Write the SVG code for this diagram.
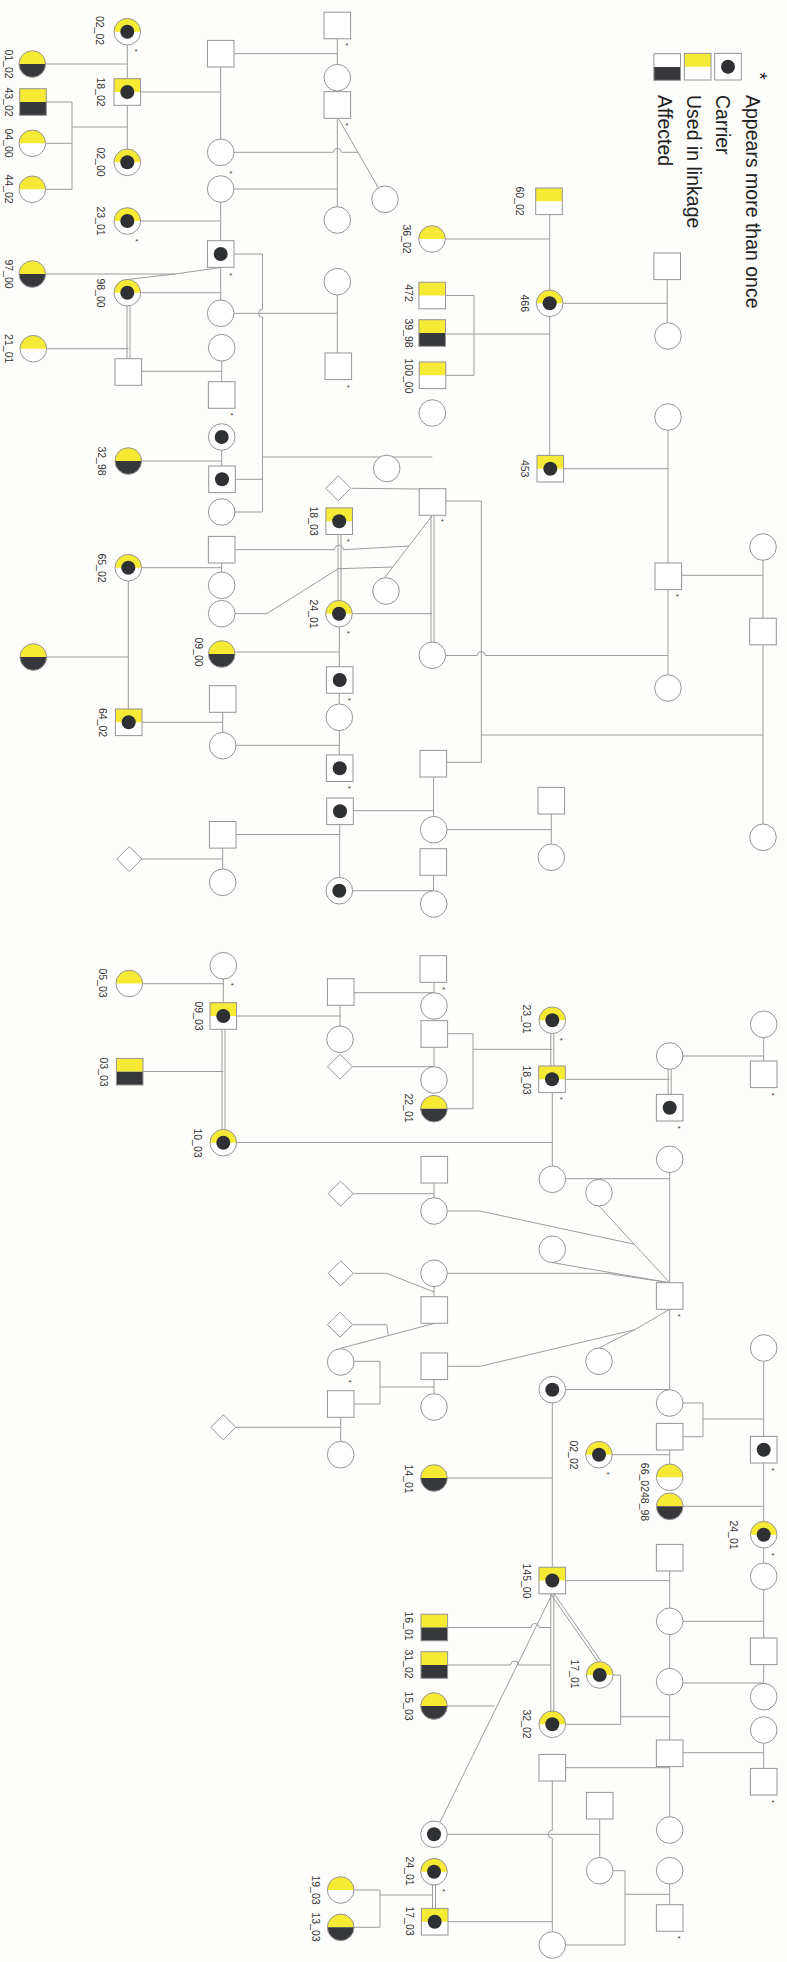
<svg xmlns="http://www.w3.org/2000/svg" width="787" height="1962" viewBox="0 0 787 1962">
<style>
.o{fill:#fff;stroke:#959595;stroke-width:1}
.ol{fill:none;stroke:#959595;stroke-width:1}
.y{fill:#f7ea35}
.k{fill:#37383b}
.d{fill:#2f3033}
.ln{fill:none;stroke:#9c9c9c;stroke-width:1}
.lb{font-family:"Liberation Sans",Arial,sans-serif;font-size:10.5px;fill:#333;text-anchor:middle}
.as{font-family:"Liberation Sans",Arial,sans-serif;font-size:8px;fill:#444;text-anchor:middle}
.lg{font-family:"Liberation Sans",Arial,sans-serif;font-size:19.5px;fill:#222}
</style>
<defs>
<g id="C"><circle r="13.3" class="o"/></g>
<g id="CY"><circle r="13.3" fill="#fff"/><path d="M-13.3,0A13.3,13.3 0 0 1 13.3,0Z" class="y"/><circle r="13.3" class="ol"/></g>
<g id="CYK"><path d="M-13.3,0A13.3,13.3 0 0 1 13.3,0Z" class="y"/><path d="M-13.3,0A13.3,13.3 0 0 0 13.3,0Z" class="k"/><circle r="13.3" class="ol"/></g>
<g id="S"><rect x="-13.3" y="-13.3" width="26.6" height="26.6" class="o"/></g>
<g id="SY"><rect x="-13.3" y="-13.3" width="26.6" height="26.6" fill="#fff"/><rect x="-13.3" y="-13.3" width="26.6" height="13.3" class="y"/><rect x="-13.3" y="-13.3" width="26.6" height="26.6" class="ol"/></g>
<g id="SYK"><rect x="-13.3" y="-13.3" width="26.6" height="13.3" class="y"/><rect x="-13.3" y="0" width="26.6" height="13.3" class="k"/><rect x="-13.3" y="-13.3" width="26.6" height="26.6" class="ol"/></g>
<g id="SK"><rect x="-13.3" y="-13.3" width="26.6" height="26.6" fill="#fff"/><rect x="-13.3" y="0" width="26.6" height="13.3" class="k"/><rect x="-13.3" y="-13.3" width="26.6" height="26.6" class="ol"/></g>
<g id="D"><path d="M0,-12.5L12.5,0L0,12.5L-12.5,0Z" class="o"/></g>
<circle id="dot" r="7" class="d"/>
</defs>
<rect width="787" height="1962" fill="#fdfdfb"/>

<g id="connectors">
<path class="ln" d="M127.3,45V78.7M45.6,64H127.3M127.3,105.3V149M72,127H127.3M72,102V189.3M46.3,102H72M45.6,143.3H72M45.6,189.3H72M140.6,92H220.7M234,53.7H337.3M220.7,67V139M337.3,38.8V64.4M337.3,91V91.7M337.3,118.3V206.7"/>
<path class="ln" d="M234,152.3H333.3A4,4 0 0 1 341.3,152.3H358.3M338.3,118.3L378.4,187.8M234,189H337.3M220.7,202.3V240.7M140.6,221H220.7"/>
<path class="ln" d="M45.6,274H175L220.7,267.5M128.3,279.4L175,274M140.6,292.7H220.7M220.7,267.3V300M234,254H262.5V309.3A4,4 0 0 0 262.5,317.3V512M234,313.3H337.3M337.3,295V353"/>
<path class="ln" d="M127,306V358.7M130,306V358.7"/>
<path class="ln" d="M46.6,348.7H128.5M141.6,371.3H221.7M221.7,361V381.7M221.7,450.3V466M141.6,461H221.7M235.3,479.3H262.5M235,512H262.5M262.5,457H432.3"/>
<path class="ln" d="M235,549.7H334.5A4.5,4.5 0 0 1 343.5,549.7L409,546M221.7,563V572M141.6,567.7H221.7M235,613.7H266.7L338.3,568.7L393,567M432.5,515.3L383.5,579M352.3,613.7H432.3M351.6,488.3L419.7,489"/>
<path class="ln" d="M338,534.5V600.4M341,534.5V600.4"/>
<path class="ln" d="M235,652H339.3M339.3,627V666.7M339.3,693.3V704M339.3,730.6V755M236,745.3H339.3M222.7,712.3V732.4M142,722.3H222.7M128.3,581V709M46.6,657H128.3M339.7,824.6V877.4M236,834.5H339.7M222.7,848V869M141.8,859H222.7"/>
<path class="ln" d="M549.7,214.6V290M445.3,239H549.7M549.7,316.6V455.3M563,303.3H667.2M667.2,279.6V322.7M445.5,295.5H474V375.3H445.8M445.5,334H549.7M563.6,468.7H668M668,430.3V563M681.6,575.3H763M763,560.3V618.2M763,644.8V824M668,589.6V674.7"/>
<path class="ln" d="M445.6,655.5H477.3A4,4 0 0 1 485.3,655.5H668M481.3,735H763M445.8,501H481.3V762.3H446.6M433.5,777V816.4M353.3,810.7H433.5M447,829.7H551.3M551.3,814V844M433.5,875.3V890.7M352.6,890.7H433.5"/>
<path class="ln" d="M431,515.3V642M434,515.3V642"/>
<path class="ln" d="M223.3,979V1002.7M142.6,983.7H223.3M236.6,1016H340M340,1005.3V1026M354,992.7H434M434,982.3V992.7M434,1019.3V1020.7M434,1047.3V1066.7M352.5,1066.7H434M447.6,1033.7H473V1108.7H447.3M473,1049.3H552.3"/>
<path class="ln" d="M222,1029.3V1129.4M225,1029.3V1129.4M550.8,1033.6V1066M553.8,1033.6V1066M668.2,1069.3V1094.4M671.2,1069.3V1094.4"/>
<path class="ln" d="M143,1071.5H223.5M236.6,1142.5H552.3M565.3,1079.3H669.7M683,1056H763.7M763.7,1037.6V1061M552.3,1092.6V1166M565.6,1178.7H669.7M669.7,1172.6V1282.7M599,1206L669.7,1282.7M447.3,1211H479.7L634.7,1244.3M434,1183V1197.7M353.2,1193.7H434M552.3,1262.6L669.7,1282.7M447.3,1273.3H606L669.7,1282.7M434,1286.6V1296.7M354,1273.3H386.7L434,1292"/>
<path class="ln" d="M353,1324.7H386.7L388.3,1335.2M340,1348.5L434.5,1323.3M354,1361.3H380V1404H354M380,1387H434M340.7,1417.3V1441.4M236,1427.3H340.7M447.6,1366.3H480.3L634.7,1329.7L669.7,1309.3M599,1348L634.7,1329.7M434,1379.6V1393.7M669.7,1309.3V1389.7M565.6,1389.5H669.7M683,1403H703V1436.7H683M703,1419H763.7M763.7,1361.3V1436.4"/>
<path class="ln" d="M669.7,1450V1464M612.3,1454.7H669.7M683,1506.3H763.7M763.7,1463V1521.4M763.7,1548V1563M763.7,1589.6V1638M552.3,1403V1567.2M447.3,1478H552.3M565.6,1580.6H669.7M669.7,1571V1608M669.7,1634.6V1668.4M683,1621.3H763.7M763.7,1664.6V1683.4M683,1683H763.7M763.7,1743.3V1768.4M683,1752.7H763.7"/>
<path class="ln" d="M447.6,1627.5H531A4,4 0 0 1 539,1627.5H551M447.6,1665H510.5A4,4 0 0 1 518.5,1665H551M447.3,1706H494.4M552.3,1593.7L439.9,1822.4"/>
<path class="ln" d="M553.5,1592.9L600.9,1660.9M551.1,1594.5L598.5,1662.5M550.8,1593.7V1711M553.8,1593.7V1711"/>
<path class="ln" d="M613,1675H620.7V1724.3H565.6M620.7,1716.7H669.7M669.7,1695V1740M669.7,1766.6V1816.7M565.6,1767.7H669.7M552.3,1781V1830.3A4,4 0 0 0 552.3,1838.3V1931.7M447.3,1834.3H599.7M599.7,1819V1857.4M613,1870.7H625V1945H565.6M625,1894.3H669.7M669.7,1884V1904.7"/>
<path class="ln" d="M432.5,1885V1908.4M435.5,1885V1908.4M448,1921.7H552.3M354,1890H380V1927.3H354M380,1895H432.5"/>
</g>

<g id="legend">
<text class="lg" transform="translate(753,76) rotate(90)" text-anchor="middle" font-size="14">*</text>
<use href="#S" x="728" y="66.7"/><use href="#dot" x="728" y="66.7"/>
<use href="#SY" x="697.7" y="66.7"/>
<use href="#SK" x="667.2" y="67"/>
<text class="lg" transform="translate(746,95) rotate(90)">Appears more than once</text>
<text class="lg" transform="translate(716,95) rotate(90)">Carrier</text>
<text class="lg" transform="translate(687,95) rotate(90)">Used in linkage</text>
<text class="lg" transform="translate(658,95) rotate(90)">Affected</text>
</g>

<g id="n1"><use href="#CY" x="127.3" y="31.7"/><use href="#dot" x="127.3" y="31.7"/><text class="lb" transform="translate(96,30.5) rotate(90)">02_02</text><text class="as" x="136" y="54">*</text></g>
<g id="n2"><use href="#CYK" x="32.3" y="64"/><text class="lb" transform="translate(5,64) rotate(90)">01_02</text></g>
<g id="n3"><use href="#SY" x="127.3" y="92"/><use href="#dot" x="127.3" y="92"/><text class="lb" transform="translate(97,92) rotate(90)">18_02</text></g>
<g id="n4"><use href="#SYK" x="33" y="102"/><text class="lb" transform="translate(5,102) rotate(90)">43_02</text></g>
<g id="n5"><use href="#CY" x="32.3" y="143.3"/><text class="lb" transform="translate(5,143) rotate(90)">04_00</text></g>
<g id="n6"><use href="#CY" x="32.3" y="189.3"/><text class="lb" transform="translate(5,189) rotate(90)">44_02</text></g>
<g id="n7"><use href="#CY" x="127.3" y="162.3"/><use href="#dot" x="127.3" y="162.3"/><text class="lb" transform="translate(97,162) rotate(90)">02_00</text></g>
<g id="n8"><use href="#S" x="220.7" y="53.7"/></g>
<g id="n9"><use href="#S" x="337.3" y="25.5"/><text class="as" x="346.7" y="48.3">*</text></g>
<g id="n10"><use href="#C" x="337.3" y="77.7"/></g>
<g id="n11"><use href="#S" x="337.3" y="105"/><text class="as" x="346.7" y="128">*</text></g>
<g id="n12"><use href="#C" x="220.7" y="152.3"/><text class="as" x="230.7" y="175.7">*</text></g>
<g id="n13"><use href="#C" x="385" y="199.3"/></g>
<g id="n14"><use href="#C" x="220.7" y="189"/></g>
<g id="n15"><use href="#C" x="337.3" y="220"/></g>
<g id="n16"><use href="#CY" x="127.3" y="221"/><use href="#dot" x="127.3" y="221"/><text class="lb" transform="translate(97,221) rotate(90)">23_01</text><text class="as" x="136.7" y="244">*</text></g>
<g id="n17"><use href="#S" x="220.7" y="254"/><use href="#dot" x="220.7" y="254"/><text class="as" x="230.7" y="278">*</text></g>
<g id="n18"><use href="#CYK" x="32.3" y="274"/><text class="lb" transform="translate(5,274) rotate(90)">97_00</text></g>
<g id="n19"><use href="#CY" x="127.3" y="292.7"/><use href="#dot" x="127.3" y="292.7"/><text class="lb" transform="translate(97,293) rotate(90)">98_00</text></g>
<g id="n20"><use href="#C" x="337.3" y="281.7"/></g>
<g id="n21"><use href="#C" x="220.7" y="313.3"/></g>
<g id="n22"><use href="#C" x="221.7" y="347.7"/></g>
<g id="n23"><use href="#CY" x="33.3" y="348.7"/><text class="lb" transform="translate(5,348.7) rotate(90)">21_01</text></g>
<g id="n24"><use href="#S" x="128.3" y="372"/></g>
<g id="n25"><use href="#S" x="338.3" y="366.3"/><text class="as" x="348.3" y="390">*</text></g>
<g id="n26"><use href="#S" x="221.7" y="395"/><text class="as" x="231.7" y="418.3">*</text></g>
<g id="n27"><use href="#C" x="221.7" y="437"/><use href="#dot" x="221.7" y="437"/></g>
<g id="n28"><use href="#CYK" x="128.3" y="461"/><text class="lb" transform="translate(98,461) rotate(90)">32_98</text></g>
<g id="n29"><use href="#S" x="222" y="479.3"/><use href="#dot" x="222" y="479.3"/></g>
<g id="n30"><use href="#C" x="221.7" y="512"/></g>
<g id="n31"><use href="#D" x="338.3" y="488.3"/></g>
<g id="n32"><use href="#C" x="386.7" y="468.5"/></g>
<g id="n33"><use href="#SY" x="339.2" y="521.2"/><use href="#dot" x="339.2" y="521.2"/><text class="lb" transform="translate(310,521) rotate(90)">18_03</text><text class="as" x="348.3" y="543.7">*</text></g>
<g id="n34"><use href="#S" x="221.7" y="549.7"/></g>
<g id="n35"><use href="#C" x="221.7" y="585.3"/></g>
<g id="n36"><use href="#CY" x="128.3" y="567.7"/><use href="#dot" x="128.3" y="567.7"/><text class="lb" transform="translate(98,568) rotate(90)">65_02</text></g>
<g id="n37"><use href="#C" x="221.7" y="613.7"/></g>
<g id="n38"><use href="#CY" x="339" y="613.7"/><use href="#dot" x="339" y="613.7"/><text class="lb" transform="translate(310,614) rotate(90)">24_01</text><text class="as" x="348.3" y="636">*</text></g>
<g id="n39"><use href="#C" x="386" y="591"/></g>
<g id="n40"><use href="#CYK" x="221.7" y="654"/><text class="lb" transform="translate(195,652) rotate(90)">09_00</text></g>
<g id="n41"><use href="#CYK" x="33.3" y="657"/></g>
<g id="n42"><use href="#S" x="339.7" y="680"/><use href="#dot" x="339.7" y="680"/><text class="as" x="349.3" y="703">*</text></g>
<g id="n43"><use href="#S" x="222.7" y="699"/></g>
<g id="n44"><use href="#SY" x="128.7" y="722.3"/><use href="#dot" x="128.7" y="722.3"/><text class="lb" transform="translate(99,722.5) rotate(90)">64_02</text></g>
<g id="n45"><use href="#C" x="339.3" y="717.3"/></g>
<g id="n46"><use href="#C" x="222.7" y="745.7"/></g>
<g id="n47"><use href="#S" x="339.7" y="768.2"/><use href="#dot" x="339.7" y="768.2"/><text class="as" x="349.3" y="791.3">*</text></g>
<g id="n48"><use href="#S" x="340" y="811.3"/><use href="#dot" x="340" y="811.3"/></g>
<g id="n49"><use href="#S" x="222.7" y="834.8"/></g>
<g id="n50"><use href="#D" x="129.3" y="859"/></g>
<g id="n51"><use href="#C" x="222.7" y="882.3"/></g>
<g id="n52"><use href="#C" x="339.3" y="890.7"/><use href="#dot" x="339.3" y="890.7"/></g>

<g id="n53"><use href="#SY" x="549" y="201.3"/><text class="lb" transform="translate(516,201) rotate(90)">60_02</text></g>
<g id="n54"><use href="#CY" x="432" y="239"/><text class="lb" transform="translate(403,239) rotate(90)">36_02</text></g>
<g id="n55"><use href="#CY" x="549.7" y="303.3"/><use href="#dot" x="549.7" y="303.3"/><text class="lb" transform="translate(521,303.3) rotate(90)">466</text></g>
<g id="n56"><use href="#S" x="667.2" y="266.3"/></g>
<g id="n57"><use href="#C" x="668" y="336"/></g>
<g id="n58"><use href="#SY" x="432.2" y="295.5"/><text class="lb" transform="translate(405,293) rotate(90)">472</text></g>
<g id="n59"><use href="#SYK" x="432.2" y="333"/><text class="lb" transform="translate(405,333) rotate(90)">39_98</text></g>
<g id="n60"><use href="#SY" x="432.5" y="375.3"/><text class="lb" transform="translate(405,376) rotate(90)">100_00</text></g>
<g id="n61"><use href="#C" x="432.3" y="413"/></g>
<g id="n62"><use href="#SY" x="550.3" y="468.7"/><use href="#dot" x="550.3" y="468.7"/><text class="lb" transform="translate(521,468.7) rotate(90)">453</text></g>
<g id="n63"><use href="#C" x="668" y="417"/></g>
<g id="n64"><use href="#S" x="432.5" y="502"/><text class="as" x="442.3" y="524.3">*</text></g>
<g id="n65"><use href="#S" x="668.3" y="576.3"/><text class="as" x="677.3" y="599.3">*</text></g>
<g id="n66"><use href="#C" x="763" y="547"/></g>
<g id="n67"><use href="#S" x="763" y="631.5"/></g>
<g id="n68"><use href="#C" x="432.3" y="655.3"/></g>
<g id="n69"><use href="#C" x="668" y="688"/></g>
<g id="n70"><use href="#S" x="433.3" y="763.7"/></g>
<g id="n71"><use href="#S" x="551.3" y="800.7"/></g>
<g id="n72"><use href="#C" x="433.7" y="829.7"/></g>
<g id="n73"><use href="#C" x="551.3" y="857.3"/></g>
<g id="n74"><use href="#S" x="433.3" y="862"/></g>
<g id="n75"><use href="#C" x="433.7" y="904"/></g>
<g id="n76"><use href="#C" x="763" y="837.3"/></g>

<g id="n77"><use href="#C" x="223.3" y="965.7"/><text class="as" x="232.3" y="988.3">*</text></g>
<g id="n78"><use href="#CY" x="129.3" y="983.5"/><text class="lb" transform="translate(99,983) rotate(90)">05_03</text></g>
<g id="n79"><use href="#S" x="433.3" y="969"/><text class="as" x="443.7" y="991.7">*</text></g>
<g id="n80"><use href="#S" x="340.7" y="992"/></g>
<g id="n81"><use href="#C" x="434" y="1006"/></g>
<g id="n82"><use href="#SY" x="223.3" y="1016"/><use href="#dot" x="223.3" y="1016"/><text class="lb" transform="translate(195,1016) rotate(90)">09_03</text></g>
<g id="n83"><use href="#S" x="434.3" y="1034"/></g>
<g id="n84"><use href="#C" x="340" y="1039.3"/></g>
<g id="n85"><use href="#D" x="340" y="1066.7"/></g>
<g id="n86"><use href="#SYK" x="129.7" y="1071.7"/><text class="lb" transform="translate(100,1072) rotate(90)">03_03</text></g>
<g id="n87"><use href="#C" x="434" y="1080"/></g>
<g id="n88"><use href="#CYK" x="434" y="1108.7"/><text class="lb" transform="translate(405,1108) rotate(90)">22_01</text></g>
<g id="n89"><use href="#CY" x="223.3" y="1142.7"/><use href="#dot" x="223.3" y="1142.7"/><text class="lb" transform="translate(194,1143) rotate(90)">10_03</text></g>
<g id="n90"><use href="#CY" x="552.3" y="1020.3"/><use href="#dot" x="552.3" y="1020.3"/><text class="lb" transform="translate(523,1019) rotate(90)">23_01</text><text class="as" x="561.3" y="1042.7">*</text></g>
<g id="n91"><use href="#SY" x="552" y="1079.3"/><use href="#dot" x="552" y="1079.3"/><text class="lb" transform="translate(523,1080) rotate(90)">18_03</text><text class="as" x="561.3" y="1102.3">*</text></g>
<g id="n92"><use href="#C" x="669.7" y="1056"/></g>
<g id="n93"><use href="#S" x="669.7" y="1107.7"/><use href="#dot" x="669.7" y="1107.7"/><text class="as" x="679" y="1131">*</text></g>
<g id="n94"><use href="#C" x="763.7" y="1024.3"/></g>
<g id="n95"><use href="#S" x="763.7" y="1074.3"/><text class="as" x="773" y="1097.7">*</text></g>
<g id="n96"><use href="#C" x="552.3" y="1179.3"/></g>
<g id="n97"><use href="#C" x="669.7" y="1159.3"/></g>
<g id="n98"><use href="#S" x="434.3" y="1169.7"/></g>
<g id="n99"><use href="#C" x="599" y="1192.7"/></g>
<g id="n100"><use href="#D" x="340.7" y="1193.7"/></g>
<g id="n101"><use href="#C" x="434" y="1211"/></g>
<g id="n102"><use href="#C" x="552.3" y="1249.3"/></g>
<g id="n103"><use href="#C" x="434" y="1273.3"/></g>
<g id="n104"><use href="#D" x="340.7" y="1273.3"/></g>
<g id="n105"><use href="#S" x="669.7" y="1296"/><text class="as" x="679" y="1318.7">*</text></g>
<g id="n106"><use href="#S" x="434.3" y="1310"/></g>
<g id="n107"><use href="#D" x="340" y="1324.7"/></g>
<g id="n108"><use href="#C" x="340.7" y="1362"/><text class="as" x="350" y="1384.7">*</text></g>
<g id="n109"><use href="#S" x="434.3" y="1366.3"/></g>
<g id="n110"><use href="#C" x="599" y="1361.3"/></g>
<g id="n111"><use href="#C" x="763.7" y="1348"/></g>
<g id="n112"><use href="#C" x="552.3" y="1389.7"/><use href="#dot" x="552.3" y="1389.7"/></g>
<g id="n113"><use href="#C" x="669.7" y="1403"/></g>
<g id="n114"><use href="#S" x="340.7" y="1404"/></g>
<g id="n115"><use href="#C" x="434" y="1407"/></g>
<g id="n116"><use href="#D" x="223.3" y="1427.3"/></g>
<g id="n117"><use href="#S" x="669.7" y="1436.7"/></g>
<g id="n118"><use href="#S" x="763.7" y="1449.7"/><use href="#dot" x="763.7" y="1449.7"/><text class="as" x="773" y="1473">*</text></g>
<g id="n119"><use href="#C" x="340.7" y="1454.7"/></g>
<g id="n120"><use href="#CY" x="599" y="1454.7"/><use href="#dot" x="599" y="1454.7"/><text class="lb" transform="translate(570,1455) rotate(90)">02_02</text><text class="as" x="608" y="1477">*</text></g>
<g id="n121"><use href="#CY" x="669.7" y="1477.3"/><text class="lb" transform="translate(641,1492) rotate(90)">66_0248_98</text></g>
<g id="n122"><use href="#CYK" x="434" y="1478"/><text class="lb" transform="translate(405,1479) rotate(90)">14_01</text></g>
<g id="n123"><use href="#CYK" x="669.7" y="1506.3"/></g>
<g id="n124"><use href="#CY" x="763.7" y="1534.7"/><use href="#dot" x="763.7" y="1534.7"/><text class="lb" transform="translate(730,1535) rotate(90)">24_01</text><text class="as" x="773" y="1558">*</text></g>
<g id="n125"><use href="#S" x="669.7" y="1557.7"/></g>
<g id="n126"><use href="#C" x="763.7" y="1576.3"/></g>
<g id="n127"><use href="#SY" x="552.3" y="1580.5"/><use href="#dot" x="552.3" y="1580.5"/><text class="lb" transform="translate(523,1581) rotate(90)">145_00</text></g>
<g id="n128"><use href="#C" x="669.7" y="1621.3"/></g>
<g id="n129"><use href="#SYK" x="434.3" y="1627.5"/><text class="lb" transform="translate(405,1626) rotate(90)">16_01</text></g>
<g id="n130"><use href="#S" x="763.7" y="1651.3"/></g>
<g id="n131"><use href="#SYK" x="434.3" y="1665"/><text class="lb" transform="translate(405,1664) rotate(90)">31_02</text></g>
<g id="n132"><use href="#CY" x="599.7" y="1675"/><use href="#dot" x="599.7" y="1675"/><text class="lb" transform="translate(571,1674) rotate(90)">17_01</text></g>
<g id="n133"><use href="#C" x="669.7" y="1681.7"/></g>
<g id="n134"><use href="#C" x="763.7" y="1696.7"/></g>
<g id="n135"><use href="#CYK" x="434" y="1706"/><text class="lb" transform="translate(405,1706) rotate(90)">15_03</text></g>
<g id="n136"><use href="#CY" x="552.3" y="1724.3"/><use href="#dot" x="552.3" y="1724.3"/><text class="lb" transform="translate(523,1724) rotate(90)">32_02</text></g>
<g id="n137"><use href="#C" x="763.7" y="1730"/></g>
<g id="n138"><use href="#S" x="669.7" y="1753.3"/></g>
<g id="n139"><use href="#S" x="552.3" y="1767.7"/></g>
<g id="n140"><use href="#S" x="763.7" y="1781.7"/><text class="as" x="773" y="1805">*</text></g>
<g id="n141"><use href="#S" x="599.7" y="1805.7"/></g>
<g id="n142"><use href="#C" x="669.7" y="1830"/></g>
<g id="n143"><use href="#C" x="434" y="1834.3"/><use href="#dot" x="434" y="1834.3"/></g>
<g id="n144"><use href="#C" x="599.7" y="1870.7"/></g>
<g id="n145"><use href="#C" x="669.7" y="1870.7"/></g>
<g id="n146"><use href="#CY" x="434" y="1871.7"/><use href="#dot" x="434" y="1871.7"/><text class="lb" transform="translate(406,1871) rotate(90)">24_01</text><text class="as" x="443.7" y="1894">*</text></g>
<g id="n147"><use href="#CY" x="340.7" y="1890"/><text class="lb" transform="translate(312,1890) rotate(90)">19_03</text></g>
<g id="n148"><use href="#S" x="669.7" y="1918"/><text class="as" x="679" y="1940.7">*</text></g>
<g id="n149"><use href="#SY" x="434.7" y="1921.7"/><use href="#dot" x="434.7" y="1921.7"/><text class="lb" transform="translate(406,1921) rotate(90)">17_03</text></g>
<g id="n150"><use href="#CYK" x="340.7" y="1927.3"/><text class="lb" transform="translate(312,1927) rotate(90)">13_03</text></g>
<g id="n151"><use href="#C" x="552.3" y="1945"/></g>
</svg>
